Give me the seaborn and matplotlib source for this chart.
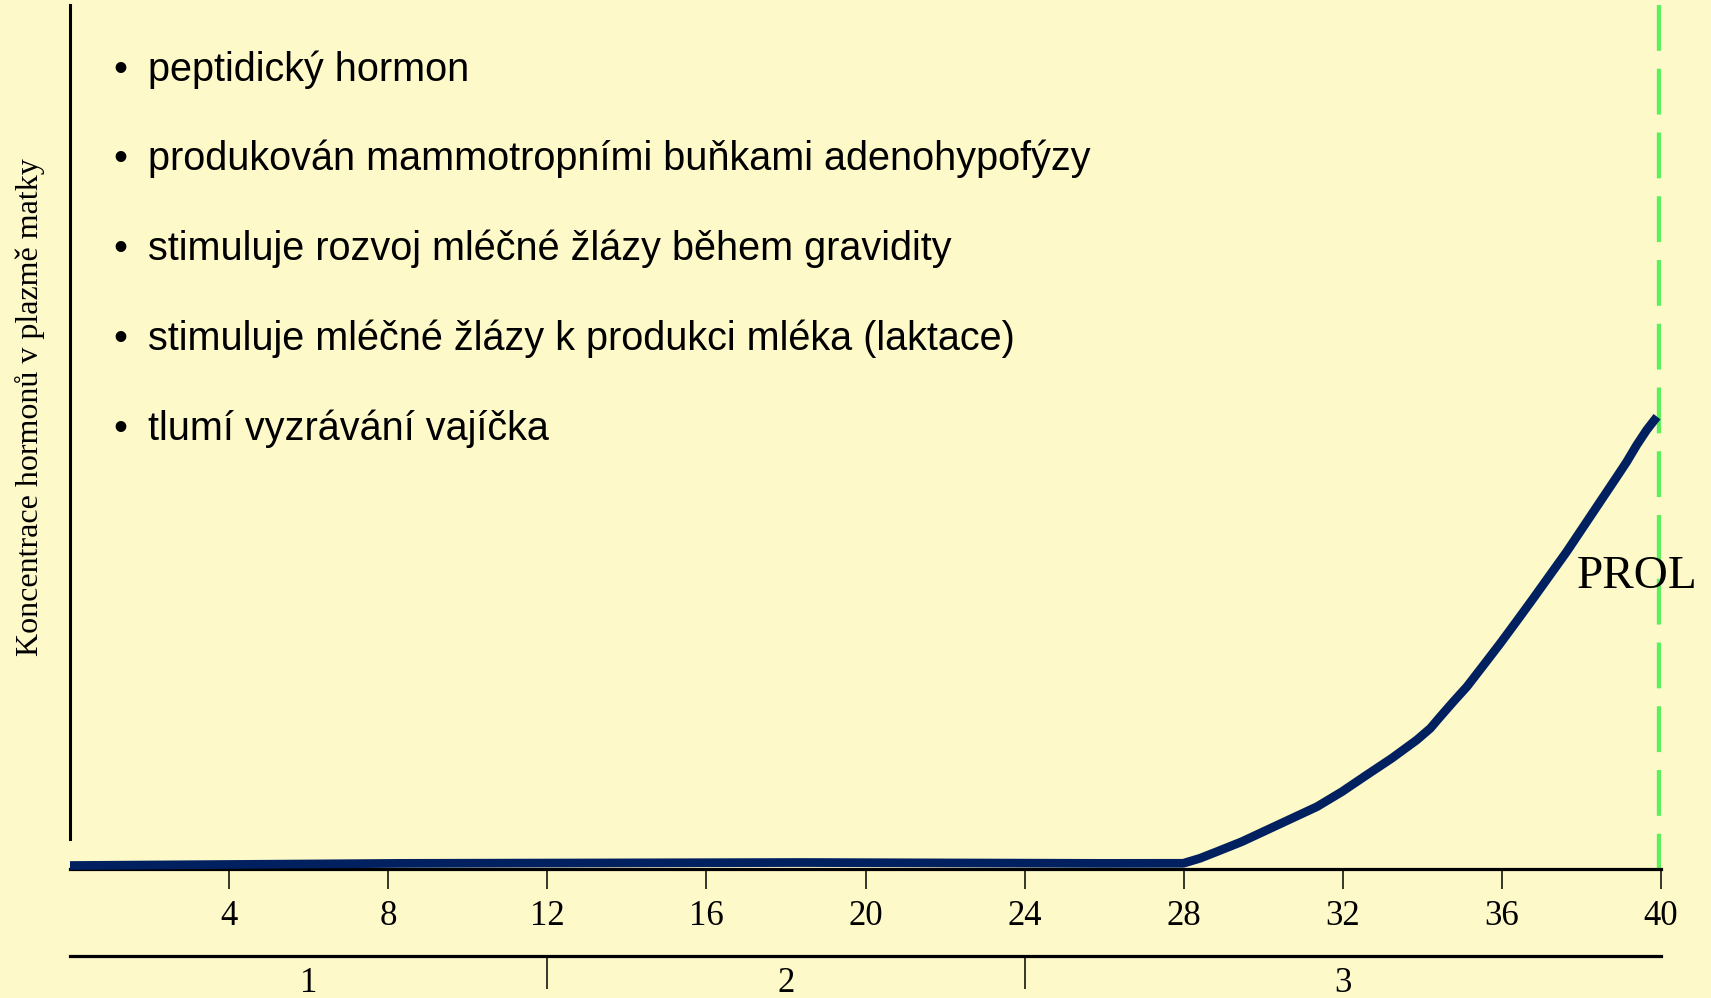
"""
Prolaktin v plazmě matky během gravidity
"""

import matplotlib
matplotlib.use("Agg")
import matplotlib.pyplot as plt
from matplotlib import font_manager
import pandas as pd
import seaborn as sns

# týden gravidity a hladina prolaktinu (relativní jednotky)
weeks = [0, 8.3, 18.4, 25.9, 27.99, 28.41, 28.83, 29.46, 30.09, 30.72, 31.35,
         31.98, 32.6, 33.23, 33.86, 34.2, 34.45, 34.78, 35.12, 35.54, 35.96,
         36.38, 36.79, 37.21, 37.63, 38.05, 38.47, 38.89, 39.14, 39.39, 39.64,
         39.9]
prolactin = [0.4, 0.65, 0.75, 0.65, 0.66, 1.24, 2.0, 3.16, 4.51, 5.86, 7.21,
             8.95, 10.88, 12.81, 14.93, 16.28, 17.63, 19.37, 21.1, 23.6, 26.12,
             28.74, 31.33, 34.03, 36.73, 39.62, 42.51, 45.4, 47.14, 49.07, 50.81,
             52.35]

week_ticks = [4, 8, 12, 16, 20, 24, 28, 32, 36, 40]
trimester_bounds = [12, 24]
trimester_mid = [6, 18, 32]
trimester_labels = ["1", "2", "3"]
birth_week = 40

bullets = [
    "peptidický hormon",
    "produkován mammotropními buňkami adenohypofýzy",
    "stimuluje rozvoj mléčné žlázy během gravidity",
    "stimuluje mléčné žlázy k produkci mléka (laktace)",
    "tlumí vyzrávání vajíčka",
]
ylabel = "Koncentrace hormonů v plazmě matky"
curve_name = "PROL"

BG = "#FEF9C8"
NAVY = "#002060"
GREEN = "#5CF05C"
SERIF = "Liberation Serif"


def pick_font(names):
    for name in names:
        try:
            font_manager.findfont(font_manager.FontProperties(family=name),
                                  fallback_to_default=False)
            return name
        except Exception:
            continue
    return "DejaVu Sans"


sans = pick_font(["Liberation Sans Narrow", "Arial Narrow", "Liberation Sans"])
narrow = "Narrow" in sans
bullet_size = 35 if narrow else 28.5

sns.set_theme(style="white")
plt.rcParams["font.family"] = [SERIF, "DejaVu Serif"]

W, H = 1711, 998
fig = plt.figure(figsize=(W / 100, H / 100), dpi=100, facecolor=BG)

x0, y_axis, y_top, x1 = 70, 869, 5, 1661
ax = fig.add_axes([x0 / W, 1 - y_axis / H, (x1 - x0) / W, (y_axis - y_top) / H])
ax.set_facecolor(BG)

df = pd.DataFrame({"week": weeks, "prolactin": prolactin})
sns.lineplot(data=df, x="week", y="prolactin", ax=ax, color=NAVY, lw=6.3,
             estimator=None, sort=False, zorder=3, solid_capstyle="butt",
             solid_joinstyle="round", clip_on=False)

# porod - zelená čárkovaná čára
ax.plot([birth_week, birth_week], [100, 0], color=GREEN, lw=6,
        linestyle=(0, (5.5, 2.15)), zorder=1, solid_capstyle="butt")

ax.set_xlim(0, 40)
ax.set_ylim(0, 100)

for side in ["top", "right"]:
    ax.spines[side].set_visible(False)
ax.spines["left"].set_linewidth(2.2)
ax.spines["left"].set_color("black")
ax.spines["left"].set_bounds(3.5, 100)
ax.spines["bottom"].set_linewidth(2.3)
ax.spines["bottom"].set_color("black")

ax.set_yticks([])
ax.set_xticks(week_ticks)
ax.set_xticklabels([str(w) for w in week_ticks])
ax.tick_params(axis="x", direction="out", length=14.4, width=1.1, color="black",
               pad=8, labelsize=25, labelcolor="black", bottom=True)
ax.set_xlabel("")

ax.set_ylabel(ylabel, fontsize=23, color="black", family=SERIF)
ax.yaxis.set_label_coords(-0.016, 0.535)

# trimestry
sec = ax.secondary_xaxis(-(956 - y_axis) / (y_axis - y_top))
sec.set_xticks(trimester_bounds)
sec.set_xticklabels([""] * len(trimester_bounds))
sec.set_xticks(trimester_mid, labels=trimester_labels, minor=True)
sec.tick_params(axis="x", which="major", direction="out", length=24, width=1.1,
                color="black")
sec.tick_params(axis="x", which="minor", length=0, pad=8, labelsize=25,
                labelcolor="black")
sec.spines["bottom"].set_linewidth(2.3)
sec.spines["bottom"].set_color("black")

# popisek křivky
fig.text(1577 / W, 1 - 588 / H, curve_name, fontsize=34, family=SERIF,
         ha="left", va="baseline", color="black", zorder=5)

# odrážky
for i, line in enumerate(bullets):
    base = 80.7 + i * 89.8
    fig.text(120 / W, 1 - base / H, "•", fontsize=bullet_size, family=sans,
             ha="center", va="baseline", color="black")
    fig.text(148 / W, 1 - base / H, line, fontsize=bullet_size, family=sans,
             ha="left", va="baseline", color="black")

fig.savefig("out.png", dpi=100, facecolor=BG)
